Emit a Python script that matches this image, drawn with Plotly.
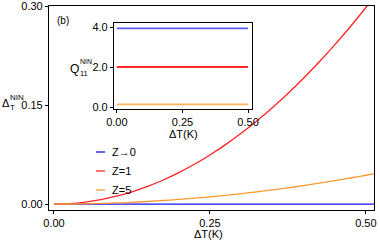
import plotly.graph_objects as go

# ---- data ----
dT = [0.0, 0.025, 0.05, 0.075, 0.10, 0.125, 0.15, 0.175, 0.20, 0.225, 0.25, 0.275,
      0.30, 0.325, 0.35, 0.375, 0.40, 0.425, 0.45, 0.475, 0.50, 0.525]
delta_z0 = [0.0] * 22
delta_z1 = [0.0, 0.0007, 0.003, 0.0067, 0.0119, 0.0186, 0.0268, 0.0365, 0.0477, 0.0603,
            0.0745, 0.0901, 0.1073, 0.1259, 0.1460, 0.1676, 0.1907, 0.2153, 0.2414, 0.2689,
            0.2980, 0.3285]
delta_z5 = [0.0, 0.0001, 0.0004, 0.0010, 0.0018, 0.0027, 0.0039, 0.0054, 0.0070, 0.0089,
            0.0109, 0.0132, 0.0158, 0.0185, 0.0214, 0.0246, 0.0280, 0.0316, 0.0354, 0.0395,
            0.0437, 0.0482]

inset_dT = [0.0, 0.5]
q_z0 = [3.93, 3.93]
q_z1 = [2.0, 2.0]
q_z5 = [0.13, 0.13]

legend_labels = ["Z→0", "Z=1", "Z=5"]
main_xticks = [0.0, 0.25, 0.5]
main_yticks = [0.0, 0.15, 0.30]
inset_xticks = [0.0, 0.25, 0.5]
inset_yticks = [0.0, 2.0, 4.0]

# ---- styling ----
W, H = 380, 242
L, R, T, B = 49, 374, 6, 210
FONT = "Liberation Sans, Arial, sans-serif"
c_blue, c_red, c_orange = "#1010f0", "#ff2222", "#ff9a30"
ci_blue, ci_red, ci_orange = "#5c5cff", "#ff2a2a", "#ffb25c"


def px(x):
    return (x - L) / (R - L)


def py(y):
    return (B - y) / (B - T)


fig = go.Figure()
for ys, col in [(delta_z0, c_blue), (delta_z1, c_red), (delta_z5, c_orange)]:
    fig.add_trace(go.Scatter(x=dT, y=ys, mode="lines", line=dict(color=col, width=1.3, shape="spline"),
                             showlegend=False, hoverinfo="skip"))
for ys, col in [(q_z0, ci_blue), (q_z1, ci_red), (q_z5, ci_orange)]:
    fig.add_trace(go.Scatter(x=inset_dT, y=ys, mode="lines", line=dict(color=col, width=1.8),
                             showlegend=False, hoverinfo="skip", xaxis="x2", yaxis="y2"))

axis_common = dict(showline=True, linecolor="black", linewidth=1.2, mirror=True,
                   ticks="outside", ticklen=3, tickwidth=1, tickcolor="black",
                   showgrid=False, zeroline=False, automargin=False,
                   tickfont=dict(family=FONT, size=11, color="black"))

fig.update_layout(
    width=W, height=H,
    margin=dict(l=L, r=W - R, t=T, b=H - B, autoexpand=False),
    paper_bgcolor="white", plot_bgcolor="white",
    showlegend=False,
    xaxis=dict(domain=[0, 1], range=[-0.008, 0.513], tickvals=main_xticks,
               tickformat=".2f", **axis_common),
    yaxis=dict(domain=[0, 1], range=[-0.009, 0.3003], tickvals=main_yticks,
               tickformat=".2f", **axis_common),
    xaxis2=dict(domain=[px(114), px(252)], anchor="y2", range=[-0.011, 0.515],
                tickvals=inset_xticks, tickformat=".2f", **axis_common),
    yaxis2=dict(domain=[py(109), py(23)], anchor="x2", range=[-0.1, 4.2],
                tickvals=inset_yticks, tickformat=".1f", **axis_common),
)

ann = []


def text(x, y, s, size=11, xanchor="center"):
    ann.append(dict(x=px(x), y=py(y), xref="paper", yref="paper", text=s, showarrow=False,
                    xanchor=xanchor, yanchor="middle",
                    font=dict(family=FONT, size=size, color="black")))


# axis titles
text(208, 234, "ΔT(K)")
text(183, 134, "ΔT(K)")
# main y title: Δ with stacked sub/sup
text(0, 103, "Δ", size=11, xanchor="left")
text(8, 97, "NIN", size=8, xanchor="left")
text(8, 107, "T", size=8, xanchor="left")
# inset y title
text(68, 69, "Q", size=12, xanchor="left")
text(78, 61, "NIN", size=7, xanchor="left")
text(78, 73, "11", size=7.5, xanchor="left")
# panel label
text(55, 21, "(b)", size=10, xanchor="left")

# manual legend
shapes = []
for i, (lab, col) in enumerate(zip(legend_labels, [c_blue, c_red, c_orange])):
    yy = 152 + 19 * i
    shapes.append(dict(type="line", xref="paper", yref="paper", x0=px(96), x1=px(105),
                       y0=py(yy), y1=py(yy), line=dict(color=col, width=1.3)))
    text(110, yy, lab, size=11, xanchor="left")

fig.update_layout(annotations=ann, shapes=shapes)
fig.write_html("out.html", config={"displayModeBar": False},
               post_script="document.body.style.margin='0';document.body.style.overflow='hidden';")
